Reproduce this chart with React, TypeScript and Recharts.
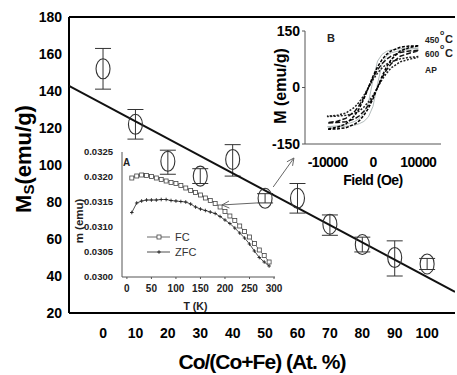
import React from 'react';
import {
  ComposedChart,
  LineChart,
  Line,
  Scatter,
  XAxis,
  YAxis,
  ErrorBar,
  ReferenceLine,
  Label,
} from 'recharts';

const FONT = '"Liberation Sans", Arial, Helvetica, sans-serif';

// ---------- Main chart data ----------
const coFraction = [0, 10, 20, 30, 40, 50, 60, 70, 80, 90, 100];
const msValues = [152, 122, 102, 94, 103, 82, 82, 68, 57, 50, 46.5];
const msErrLow = [11, 8, 7, 4, 9, 2.5, 8, 6, 4, 10, 3];
const msErrHigh = [11, 8, 6, 4, 8, 2.5, 8, 5, 4, 9, 3];
const fitX = [-10.5, 108.6];
const fitY = [142.8, 31.4];
const mainXTicks = [0, 10, 20, 30, 40, 50, 60, 70, 80, 90, 100];
const mainYTicks = [20, 40, 60, 80, 100, 120, 140, 160, 180];
const arrowToInsetA = [{ x: 47.5, y: 79.5 }, { x: 36.7, y: 78.4 }];
const arrowToInsetB = [{ x: 52.5, y: 88.1 }, { x: 58.9, y: 103.8 }];

// ---------- Inset A data ----------
const tempK = [10, 20, 30, 40, 50, 60, 70, 80, 90, 100, 110, 120, 130, 140, 150, 160, 170, 180, 190, 200, 210, 220, 230, 240, 250, 260, 270, 280, 290];
const fcMoment = [0.03198, 0.03202, 0.03204, 0.03203, 0.03201, 0.03198, 0.03195, 0.03192, 0.03189, 0.03187, 0.03183, 0.03178, 0.03173, 0.03169, 0.03164, 0.03158, 0.03153, 0.03147, 0.0314, 0.03131, 0.03122, 0.03113, 0.03102, 0.03091, 0.0308, 0.03067, 0.03054, 0.03043, 0.0303];
const zfcMoment = [0.03129, 0.03148, 0.03152, 0.03154, 0.03154, 0.03154, 0.03155, 0.03155, 0.03153, 0.03152, 0.03151, 0.0315, 0.03146, 0.0314, 0.03136, 0.03133, 0.0313, 0.03127, 0.03121, 0.03114, 0.03107, 0.03098, 0.03088, 0.03078, 0.03066, 0.03052, 0.03039, 0.0303, 0.03022];
const insetAXTicks = [0, 50, 100, 150, 200, 250, 300];
const insetAYTicks = [0.03, 0.0305, 0.031, 0.0315, 0.032, 0.0325];

// ---------- Inset B data ----------
const fieldOe = [-10000, -8000, -6000, -4000, -3000, -2000, -1000, 0, 1000, 2000, 3000, 4000, 6000, 8000, 10000];
const m450Down = [-110, -106, -97, -74, -55, -30, 0, 30, 55, 74, 88, 97, 107, 110, 111];
const m450Up = [-111, -110, -107, -97, -88, -74, -55, -30, 0, 30, 55, 74, 97, 106, 110];
const m600Down = [-93, -90, -82, -63, -47, -26, 0, 26, 47, 63, 75, 83, 93, 97, 99];
const m600Up = [-94, -93, -91, -83, -75, -63, -47, -26, 0, 26, 47, 63, 83, 91, 97];
const mAPDown = [-76, -74, -68, -52, -38, -21, 0, 21, 38, 52, 62, 68, 76, 80, 82];
const mAPUp = [-77, -76, -74, -68, -62, -52, -38, -21, 0, 21, 38, 52, 68, 75, 80];
const mGrayDown = [-104, -102, -98, -90, -82, -68, -40, 20, 70, 88, 96, 100, 103, 104, 105];
const mGrayUp = [-105, -104, -103, -100, -96, -90, -78, -50, 10, 62, 84, 92, 98, 102, 104];
const insetBXTicks = [-10000, 0, 10000];
const insetBYTicks = [-150, 0, 150];

// ---------- derived tables ----------
const mainData = coFraction.map((x, i) => ({ x, y: msValues[i], err: [msErrLow[i], msErrHigh[i]] }));
const fitData = fitX.map((x, i) => ({ x, y: fitY[i] }));
const insetAData = tempK.map((t, i) => ({ t, fc: fcMoment[i], zfc: zfcMoment[i] }));
const loop = (down: number[], up: number[]) => [
  ...fieldOe.map((h, i) => ({ h, m: down[i] })).reverse(),
  ...fieldOe.map((h, i) => ({ h, m: up[i] })),
];
const loop450 = loop(m450Down, m450Up);
const loop600 = loop(m600Down, m600Up);
const loopAP = loop(mAPDown, mAPUp);
const loopGray = loop(mGrayDown, mGrayUp);

// ---------- shapes ----------
const Ellipse = (p: any) => (
  <ellipse cx={p.cx} cy={p.cy} rx={7} ry={10} fill="none" stroke="#333" strokeWidth={1.1} />
);
const Nothing = () => <g />;

const Arrow = (p: any) => {
  const { x1, y1, x2, y2 } = p;
  const ang = Math.atan2(y2 - y1, x2 - x1);
  const L = 8;
  const w = 0.45;
  const a1x = x2 - L * Math.cos(ang - w);
  const a1y = y2 - L * Math.sin(ang - w);
  const a2x = x2 - L * Math.cos(ang + w);
  const a2y = y2 - L * Math.sin(ang + w);
  return (
    <g stroke="#666" strokeWidth={1} fill="none">
      <line x1={x1} y1={y1} x2={x2} y2={y2} />
      <polyline points={`${a1x},${a1y} ${x2},${y2} ${a2x},${a2y}`} />
    </g>
  );
};

const SquareDot = (p: any) => (
  <rect key={`s${p.index}`} x={p.cx - 2} y={p.cy - 2} width={4} height={4} fill="#fff" stroke="#444" strokeWidth={0.8} />
);
const PlusDot = (p: any) => (
  <g key={`p${p.index}`} stroke="#222" strokeWidth={0.9}>
    <line x1={p.cx - 1.8} y1={p.cy} x2={p.cx + 1.8} y2={p.cy} />
    <line x1={p.cx} y1={p.cy - 1.8} x2={p.cx} y2={p.cy + 1.8} />
  </g>
);

const rotLabel = (text: string, fromLeft: number, dyCenter: number, style: any) => (props: any) => {
  const vb = props.viewBox || {};
  const cx = (vb.x || 0) + fromLeft;
  const cy = (vb.y || 0) + (vb.height || 0) / 2 + dyCenter;
  return (
    <text x={cx} y={cy} transform={`rotate(-90 ${cx} ${cy})`} textAnchor="middle" dominantBaseline="central" style={style}>
      {text}
    </text>
  );
};

const MsLabel = (props: any) => {
  const vb = props.viewBox || {};
  const cx = (vb.x || 0) + 23;
  const cy = (vb.y || 0) + (vb.height || 0) / 2 - 6;
  return (
    <text x={cx} y={cy} transform={`rotate(-90 ${cx} ${cy})`} textAnchor="middle" dominantBaseline="central"
      style={{ fontFamily: FONT, fontSize: 22, fontWeight: 700, fill: '#000' }}>
      <tspan>M</tspan>
      <tspan fontSize={15} dy={5}>S</tspan>
      <tspan dy={-5}>(emu/g)</tspan>
    </text>
  );
};

const boldTick = (size: number, extra: any = {}) => ({ fontSize: size, fontWeight: 700, fill: '#000', fontFamily: FONT, ...extra });

export default function App() {
  return (
    <div style={{ position: 'absolute', left: 0, top: 0, width: 457, height: 375, background: '#fff', fontFamily: FONT }}>
      {/* Main chart */}
      <div style={{ position: 'absolute', left: 0, top: 0 }}>
        <ComposedChart width={457} height={375} margin={{ top: 17, right: 2, left: 0, bottom: 0 }}>
          <XAxis type="number" dataKey="x" domain={[-10.5, 108.6]} allowDataOverflow ticks={mainXTicks} interval={0}
            height={62} axisLine={{ stroke: '#000', strokeWidth: 2 }} tickLine={false} tickSize={6} tickMargin={9}
            tick={boldTick(14)}>
            <Label value="Co/(Co+Fe) (At. %)" position="insideBottom" offset={6}
              style={{ fontFamily: FONT, fontSize: 21, fontWeight: 700, fill: '#000', letterSpacing: -1 }} />
          </XAxis>
          <YAxis type="number" dataKey="y" domain={[20, 180]} allowDataOverflow ticks={mainYTicks} interval={0}
            width={69} axisLine={{ stroke: '#000', strokeWidth: 2 }} tickLine={false} tickSize={5} tickMargin={2}
            tick={boldTick(14)}>
            <Label content={MsLabel} />
          </YAxis>
          <ReferenceLine y={180} stroke="#000" strokeWidth={2} />
          <Scatter data={fitData} dataKey="y" line={{ stroke: '#111', strokeWidth: 2 }} shape={Nothing} isAnimationActive={false} />
          <Scatter data={mainData} dataKey="y" shape={Ellipse} isAnimationActive={false}>
            <ErrorBar dataKey="err" direction="y" width={8} stroke="#333" strokeWidth={1} />
          </Scatter>
          <ReferenceLine segment={arrowToInsetA} shape={Arrow} />
          <ReferenceLine segment={arrowToInsetB} shape={Arrow} />
        </ComposedChart>
      </div>

      {/* Inset A */}
      <div style={{ position: 'absolute', left: 60, top: 140 }}>
        <LineChart width={225} height={175} data={insetAData} margin={{ top: 12, right: 10, left: 0, bottom: 0 }}>
          <XAxis type="number" dataKey="t" domain={[-10, 302]} allowDataOverflow ticks={insetAXTicks} interval={0}
            height={38} axisLine={{ stroke: '#555' }} tickLine={{ stroke: '#555' }} tickSize={2} tickMargin={6}
            tick={boldTick(10, { fill: '#222' })}>
            <Label value="T (K)" position="insideBottom" offset={5} dx={-3}
              style={{ fontFamily: FONT, fontSize: 10.5, fontWeight: 700, fill: '#222' }} />
          </XAxis>
          <YAxis type="number" domain={[0.03, 0.0325]} allowDataOverflow ticks={insetAYTicks} interval={0}
            width={62} axisLine={{ stroke: '#555' }} tickLine={false} tickSize={6} tickMargin={3}
            tickFormatter={(v: number) => v.toFixed(4)} tick={boldTick(9.5, { fill: '#222' })} />
          <Line dataKey="fc" stroke="#555" strokeWidth={0.8} dot={SquareDot} isAnimationActive={false} />
          <Line dataKey="zfc" stroke="#222" strokeWidth={0.8} dot={PlusDot} isAnimationActive={false} />
          <g style={{ fontFamily: FONT }}>
            <text x={19} y={81} transform="rotate(-90 19 81)" textAnchor="middle" dominantBaseline="central"
              style={{ fontSize: 11.5, fontWeight: 700, fill: '#222' }}>m (emu)</text>
            <text x={63} y={26} style={{ fontSize: 10, fontWeight: 700, fill: '#222' }}>A</text>
            <line x1={87} y1={97} x2={110} y2={97} stroke="#444" strokeWidth={0.8} />
            <rect x={97} y={95} width={4} height={4} fill="#fff" stroke="#444" strokeWidth={0.8} />
            <text x={115} y={101} style={{ fontSize: 11, fill: '#333' }}>FC</text>
            <line x1={87} y1={112} x2={110} y2={112} stroke="#222" strokeWidth={0.8} />
            <line x1={97.2} y1={112} x2={100.8} y2={112} stroke="#222" strokeWidth={0.9} />
            <line x1={99} y1={110.2} x2={99} y2={113.8} stroke="#222" strokeWidth={0.9} />
            <text x={115} y={116} style={{ fontSize: 11, fill: '#333' }}>ZFC</text>
          </g>
        </LineChart>
      </div>

      {/* Inset B */}
      <div style={{ position: 'absolute', left: 250, top: 20 }}>
        <ComposedChart width={207} height={175} margin={{ top: 11, right: 16, left: 0, bottom: 0 }}>
          <XAxis type="number" dataKey="h" domain={[-15000, 15000]} allowDataOverflow ticks={insetBXTicks} interval={0}
            height={51} axisLine={{ stroke: '#555' }} tickLine={false} tickSize={3} tickMargin={10}
            tick={boldTick(14, { letterSpacing: -0.6 })}>
            <Label value="Field (Oe)" position="insideBottom" offset={10}
              style={{ fontFamily: FONT, fontSize: 14, fontWeight: 700, fill: '#000', letterSpacing: -0.5 }} />
          </XAxis>
          <YAxis type="number" dataKey="m" domain={[-150, 150]} allowDataOverflow ticks={insetBYTicks} interval={0}
            width={55} axisLine={{ stroke: '#555' }} tickLine={{ stroke: '#555' }} tickSize={3} tickMargin={2}
            tick={boldTick(14)}>
            <Label content={rotLabel('M (emu/g)', 30, -1.5, { fontFamily: FONT, fontSize: 16, fontWeight: 700, fill: '#000' })} />
          </YAxis>
          <Scatter data={loopGray} dataKey="m" line={{ stroke: '#a9b3b3', strokeWidth: 0.9 }} shape={Nothing} isAnimationActive={false} />
          <Scatter data={loopAP} dataKey="m" line={{ stroke: '#222', strokeWidth: 1.5, strokeDasharray: '2 1.5' }} shape={Nothing} isAnimationActive={false} />
          <Scatter data={loop600} dataKey="m" line={{ stroke: '#111', strokeWidth: 1.5, strokeDasharray: '5 2' }} shape={Nothing} isAnimationActive={false} />
          <Scatter data={loop450} dataKey="m" line={{ stroke: '#000', strokeWidth: 1.5, strokeDasharray: '3 1.5' }} shape={Nothing} isAnimationActive={false} />
          <g style={{ fontFamily: FONT, fontWeight: 700 }}>
            <text x={77} y={22} style={{ fontSize: 11, fill: '#222' }}>B</text>
            <text x={175} y={23} style={{ fontSize: 8.5, fill: '#222' }}>450</text>
            <text x={190} y={15} style={{ fontSize: 7, fill: '#222' }}>o</text>
            <text x={195} y={23} style={{ fontSize: 11, fill: '#222' }}>C</text>
            <text x={175} y={37} style={{ fontSize: 8.5, fill: '#222' }}>600</text>
            <text x={190} y={29} style={{ fontSize: 7, fill: '#222' }}>o</text>
            <text x={195} y={37} style={{ fontSize: 11, fill: '#222' }}>C</text>
            <text x={175} y={53} style={{ fontSize: 8.5, fill: '#222' }}>AP</text>
          </g>
        </ComposedChart>
      </div>
    </div>
  );
}
